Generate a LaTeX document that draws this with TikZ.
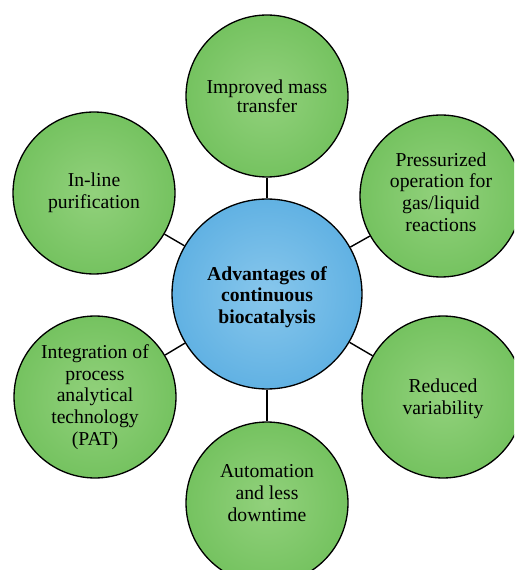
\documentclass[tikz,border=0pt]{standalone}
\usepackage{fontspec}
\setmainfont{Liberation Serif}

\definecolor{leafin}{RGB}{146,209,124}
\definecolor{leafout}{RGB}{88,180,68}
\definecolor{skyin}{RGB}{136,199,236}
\definecolor{skyout}{RGB}{58,156,218}
\pgfdeclareradialshading{leafball}{\pgfpoint{0bp}{0bp}}{color(0bp)=(leafin); color(50bp)=(leafout)}
\pgfdeclareradialshading{skyball}{\pgfpoint{0bp}{0bp}}{color(0bp)=(skyin); color(50bp)=(skyout)}

\begin{document}
\begin{tikzpicture}[x=0.02cm, y=-0.02cm,
  hub/.style={circle, draw, line width=0.75pt, shade, shading=skyball,
    minimum size=3.8cm, inner sep=0pt, align=center,
    font=\fontsize{11.2}{12.4}\selectfont\bfseries},
  petal/.style={circle, draw, line width=0.75pt, shade, shading=leafball,
    minimum size=3.24cm, inner sep=0pt, align=center,
    font=\fontsize{11.2}{12.4}\selectfont},
  tight/.style={font=\fontsize{11.2}{10.6}\selectfont},
  words/.style={align=center, font=\fontsize{11.2}{12.4}\selectfont},
  link/.style={line width=0.8pt}]

% Frame of the picture
\path[use as bounding box, clip] (0,0) rectangle (514,570);

% Centre circle (blue)
\node[hub, label={[words, font=\fontsize{11.2}{12.4}\selectfont\bfseries, yshift=-0.06cm]center:Advantages of\\continuous\\biocatalysis}] (hub) at (267,294) {};

% Outer circles (green)
\node[petal, tight] (mass) at (267,96) {Improved mass\\transfer};
\node[petal, label={[words, yshift=0.08cm]center:Pressurized\\operation for\\gas/liquid\\reactions}] (press) at (441,196) {};
\node[petal, label={[words, yshift=-0.04cm]center:Reduced\\variability}] (variab) at (443,397) {};
\node[petal, label={[words, yshift=0.2cm]center:Automation\\and less\\downtime}] (autom) at (267,503) {};
\node[petal] (pat) at (95,397) {Integration of\\process\\analytical\\technology\\(PAT)};
\node[petal] (inline) at (94,193) {In-line\\purification};

% Spokes
\foreach \n in {mass,press,variab,autom,pat,inline}
  \draw[link] (hub) -- (\n);

\end{tikzpicture}
\end{document}
